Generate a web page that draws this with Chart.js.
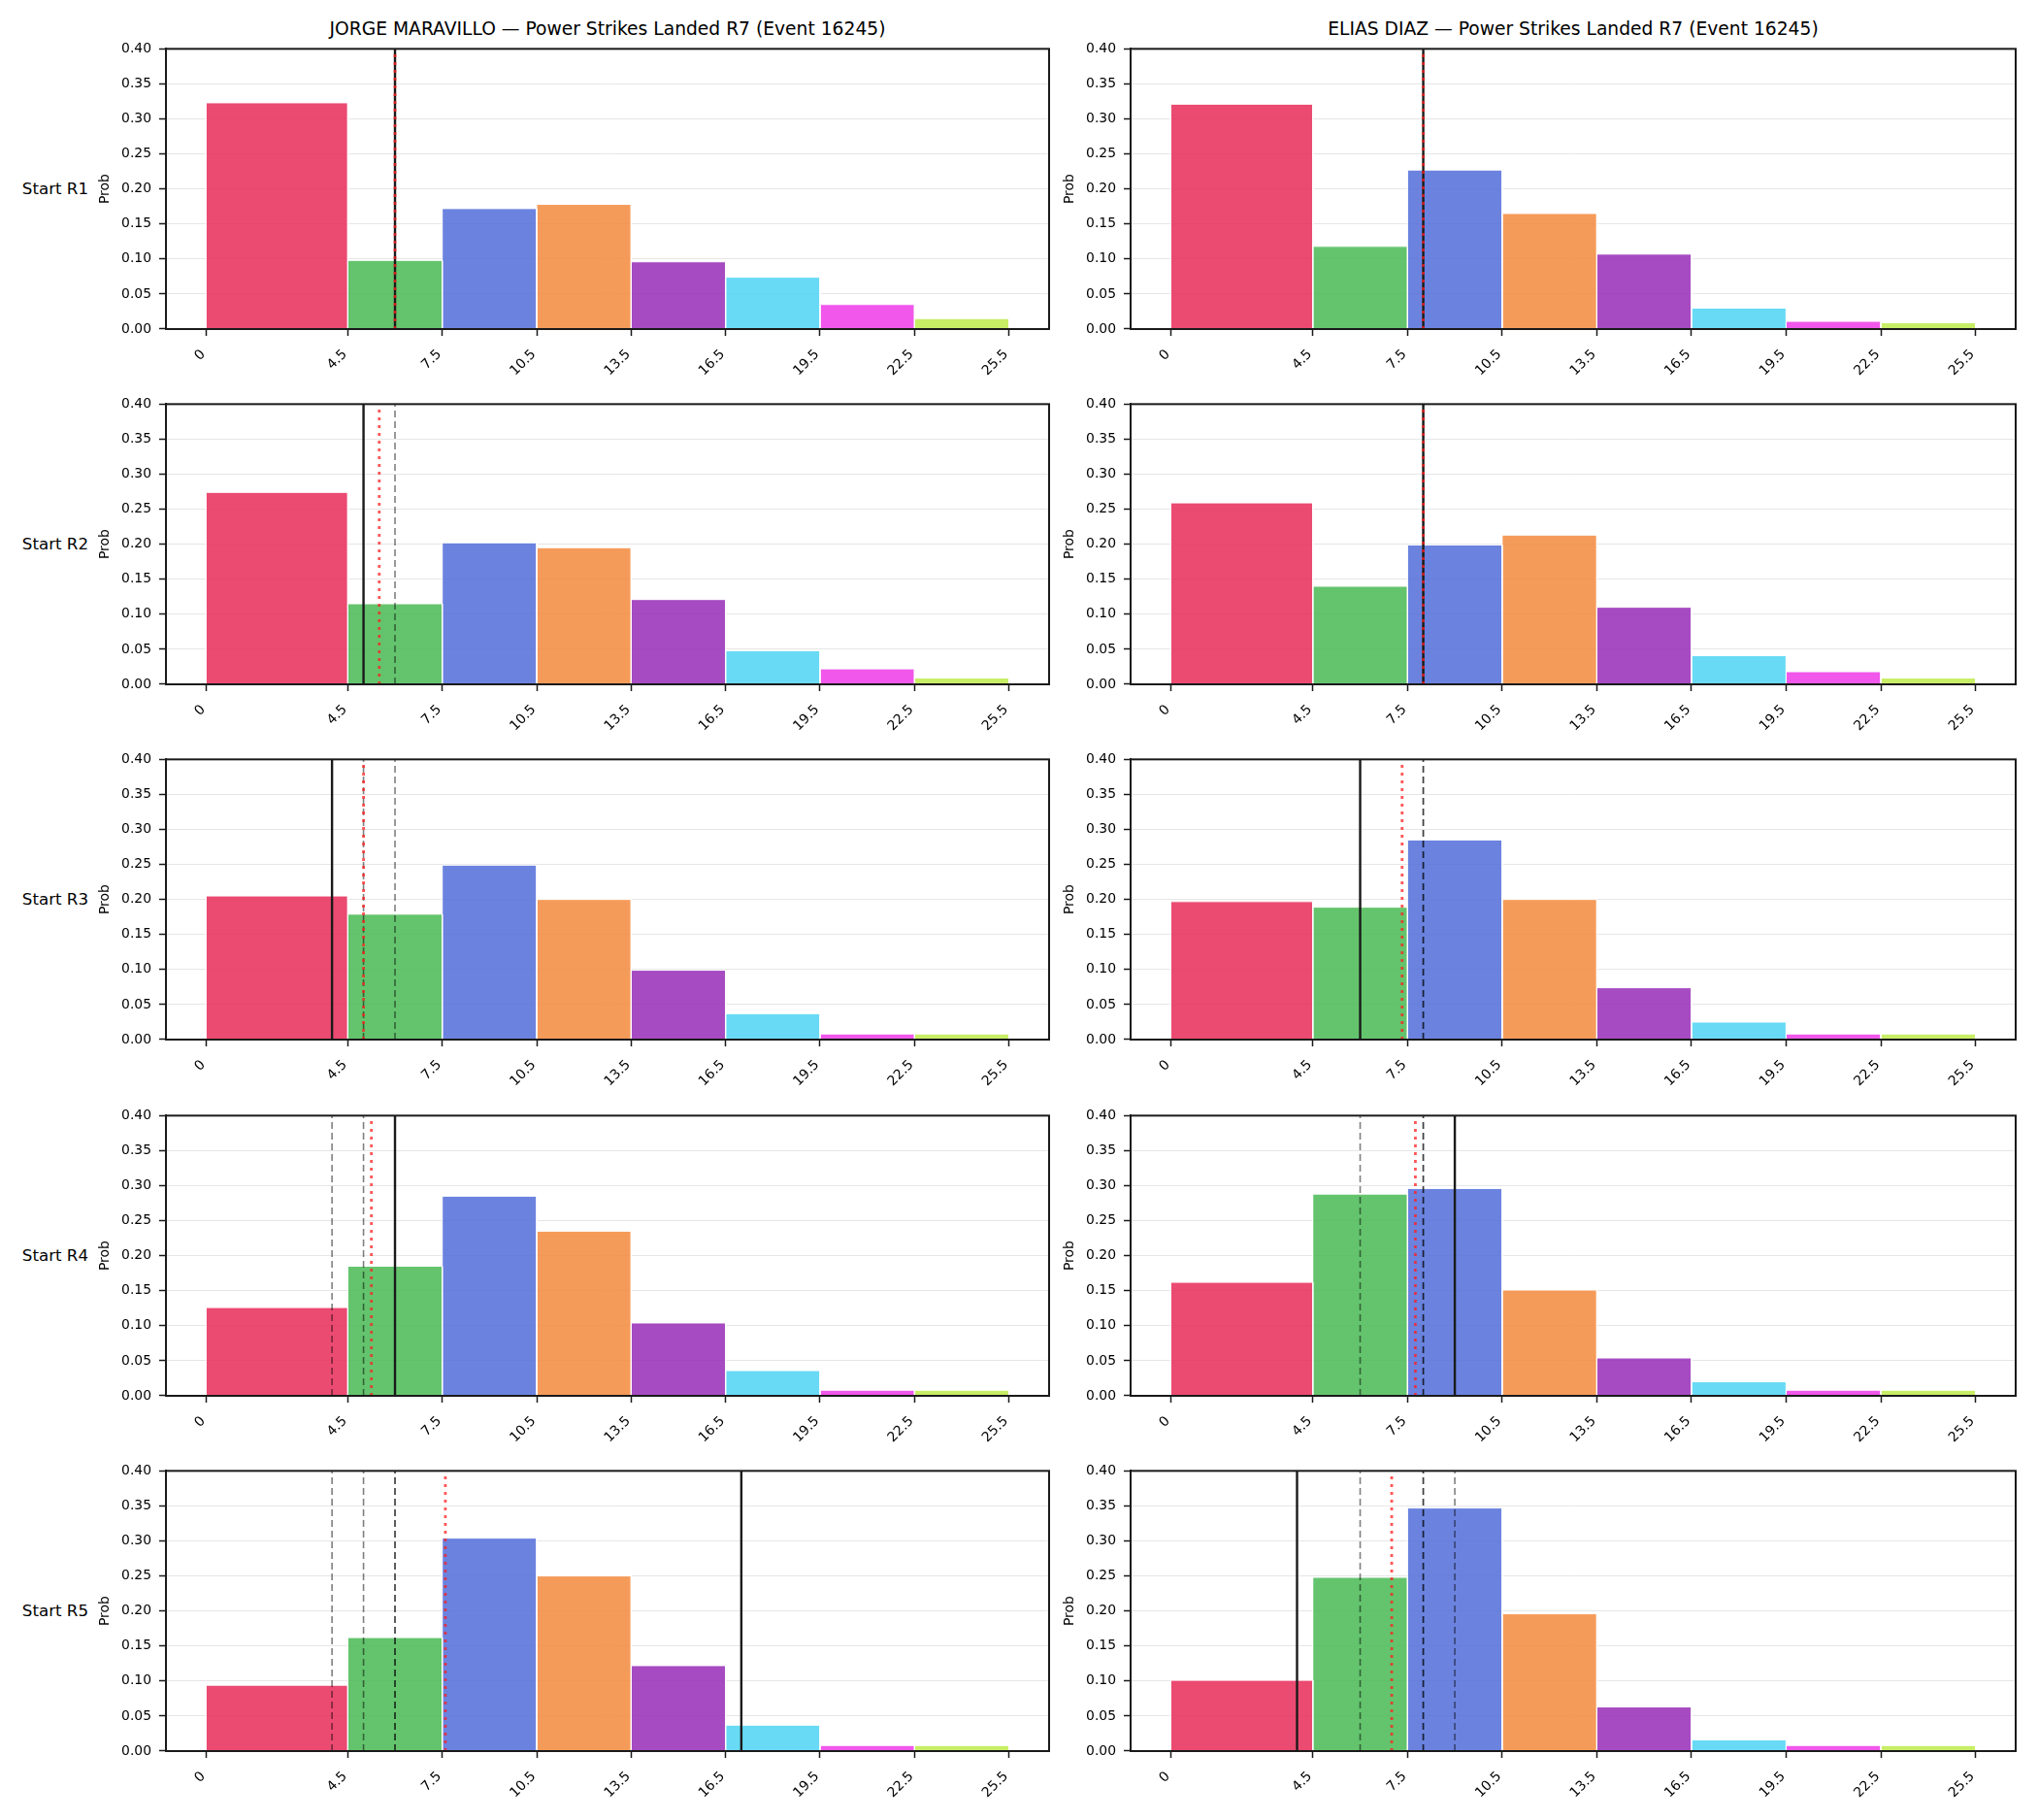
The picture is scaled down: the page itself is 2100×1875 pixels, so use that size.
<!DOCTYPE html>
<html>
<head>
<meta charset="utf-8">
<script src="https://cdn.jsdelivr.net/npm/chart.js@4.4.1/dist/chart.umd.min.js"></script>
<style>
	body { margin: 0; background: #fff; }
	#fig { position: relative; width: 2100px; height: 1875px; overflow: hidden; font-family: 'DejaVu Sans', sans-serif; color: #000; }
	#fig canvas { position: absolute; }
	.ttl { position: absolute; font-size: 18.7px; line-height: 24px; text-align: center; white-space: nowrap; }
	.rowlbl { position: absolute; font-size: 16.67px; line-height: 20px; text-align: right; white-space: nowrap; }
</style>
</head>
<body>
<div id="fig"></div>
<script>
const fighters = ['JORGE MARAVILLO', 'ELIAS DIAZ'];
const titleSuffix = ' \u2014 Power Strikes Landed R7 (Event 16245)';
const rowLabels = ['Start R1', 'Start R2', 'Start R3', 'Start R4', 'Start R5'];

const binEdges = [0, 4.5, 7.5, 10.5, 13.5, 16.5, 19.5, 22.5, 25.5];
const xTickLabels = ['0', '4.5', '7.5', '10.5', '13.5', '16.5', '19.5', '22.5', '25.5'];
const yTickValues = [0, 0.05, 0.1, 0.15, 0.2, 0.25, 0.3, 0.35, 0.4];

const binColors = [
	'rgba(232, 42, 88, 0.85)',
	'rgba(73, 186, 84, 0.85)',
	'rgba(81, 109, 217, 0.85)',
	'rgba(243, 137, 61, 0.85)',
	'rgba(150, 44, 183, 0.85)',
	'rgba(77, 211, 243, 0.85)',
	'rgba(237, 58, 230, 0.85)',
	'rgba(190, 235, 75, 0.85)',
];

// probability per bin, one array per starting round
const maravilloR1 = [0.323, 0.098, 0.172, 0.178, 0.096, 0.074, 0.035, 0.015];
const maravilloR2 = [0.274, 0.115, 0.202, 0.195, 0.121, 0.048, 0.022, 0.009];
const maravilloR3 = [0.205, 0.179, 0.249, 0.200, 0.099, 0.037, 0.008, 0.008];
const maravilloR4 = [0.126, 0.185, 0.285, 0.235, 0.104, 0.036, 0.008, 0.008];
const maravilloR5 = [0.094, 0.162, 0.304, 0.250, 0.122, 0.037, 0.008, 0.008];

const diazR1 = [0.321, 0.118, 0.227, 0.165, 0.107, 0.030, 0.011, 0.009];
const diazR2 = [0.259, 0.140, 0.199, 0.213, 0.110, 0.041, 0.018, 0.009];
const diazR3 = [0.197, 0.189, 0.285, 0.200, 0.074, 0.025, 0.008, 0.008];
const diazR4 = [0.162, 0.288, 0.296, 0.151, 0.054, 0.020, 0.008, 0.008];
const diazR5 = [0.101, 0.248, 0.347, 0.196, 0.063, 0.016, 0.008, 0.008];

// landed count in each round (solid line), earlier rounds shown dashed
const maravilloActual = [6, 5, 4, 6, 17];
const diazActual = [8, 8, 6, 9, 4];

// running average (red dotted line)
const maravilloAvg = [6, 5.5, 5.0, 5.25, 7.6];
const diazAvg = [8, 8, 7.33, 7.75, 7.0];

const panels = [
	{ probs: [maravilloR1, maravilloR2, maravilloR3, maravilloR4, maravilloR5], actual: maravilloActual, avg: maravilloAvg },
	{ probs: [diazR1, diazR2, diazR3, diazR4, diazR5], actual: diazActual, avg: diazAvg },
];

const X_MIN = -1.275;
const X_MAX = 26.775;
const Y_MAX = 0.4;

const areaLeft = [171, 1165];
const areaRight = [1081, 2077];
const areaTop = [50, 416, 782, 1149, 1515];
const areaH = 289;
const yAxisW = 71;
const padTop = 12;
const padRight = 8;
const xAxisH = 80;

const ink = '#1a1a1a';
const tickFont = { family: 'DejaVu Sans', size: 13.9 };

Chart.defaults.font.family = 'DejaVu Sans';
Chart.defaults.color = '#000';

const framePlugin = {
	id: 'frame',
	afterDraw(chart) {
		const { ctx, chartArea: a } = chart;
		ctx.save();
		ctx.strokeStyle = ink;
		ctx.lineWidth = 2;
		ctx.strokeRect(a.left, a.top, a.right - a.left, a.bottom - a.top);
		ctx.restore();
	},
};

function vline(x, color, width, dash, order) {
	return {
		data: [{ x: x, y: 0 }, { x: x, y: Y_MAX }],
		borderColor: color,
		borderWidth: width,
		borderDash: dash,
		pointRadius: 0,
		fill: false,
		order: order,
	};
}

function buildDatasets(probs, actual, avg, r) {
	const sets = [];

	probs.forEach((p, i) => {
		sets.push({
			data: [
				{ x: binEdges[i], y: 0 },
				{ x: binEdges[i], y: p },
				{ x: binEdges[i + 1], y: p },
				{ x: binEdges[i + 1], y: 0 },
			],
			backgroundColor: binColors[i],
			borderColor: '#fff',
			borderWidth: 1,
			pointRadius: 0,
			fill: 'origin',
			order: 10,
		});
	});

	for (let k = 0; k < r; k++) {
		sets.push(vline(actual[k], 'rgba(0, 0, 0, 0.5)', 1.6, [7, 4], 3));
	}
	sets.push(vline(actual[r], ink, 2.4, [], 2));
	sets.push(vline(avg[r], 'rgba(255, 30, 30, 0.75)', 2.8, [3, 5], 1));

	return sets;
}

function chartConfig(p, r) {
	return {
		type: 'line',
		data: {
			datasets: buildDatasets(p.probs[r], p.actual, p.avg, r),
		},
		options: {
			responsive: false,
			maintainAspectRatio: false,
			animation: false,
			events: [],
			elements: {
				line: { tension: 0 },
			},
			layout: {
				padding: { top: padTop, right: padRight, left: 0, bottom: 0 },
			},
			plugins: {
				legend: { display: false },
				tooltip: { enabled: false },
			},
			scales: {
				x: {
					type: 'linear',
					min: X_MIN,
					max: X_MAX,
					afterBuildTicks: (axis) => {
						axis.ticks = binEdges.map((v) => ({ value: v }));
					},
					afterFit: (scale) => {
						scale.height = xAxisH;
					},
					ticks: {
						autoSkip: false,
						minRotation: 45,
						maxRotation: 45,
						padding: 11,
						labelOffset: -3,
						font: tickFont,
						color: '#000',
						callback: (value, index) => xTickLabels[index],
					},
					grid: {
						drawOnChartArea: false,
						drawTicks: true,
						tickLength: 7,
						tickColor: ink,
						tickWidth: 1.5,
					},
					border: { color: ink, width: 2 },
				},
				y: {
					type: 'linear',
					min: 0,
					max: Y_MAX,
					afterBuildTicks: (axis) => {
						axis.ticks = yTickValues.map((v) => ({ value: v }));
					},
					afterFit: (scale) => {
						scale.width = yAxisW;
					},
					ticks: {
						padding: 8,
						font: tickFont,
						color: '#000',
						callback: (value) => Number(value).toFixed(2),
					},
					grid: {
						color: '#e6e6e6',
						lineWidth: 1,
						drawTicks: true,
						tickLength: 7,
						tickColor: ink,
						tickWidth: 1.5,
					},
					border: { color: ink, width: 2 },
					title: {
						display: true,
						text: 'Prob',
						font: { family: 'DejaVu Sans', size: 13.9 },
						color: '#000',
						padding: 0,
					},
				},
			},
		},
		plugins: [framePlugin],
	};
}

function newCanvas(w, h) {
	const canvas = document.createElement('canvas');
	canvas.width = w;
	canvas.height = h;
	canvas.style.width = w + 'px';
	canvas.style.height = h + 'px';
	document.getElementById('fig').appendChild(canvas);
	return canvas;
}

function makePanel(col, r) {
	const p = panels[col];
	const wantW = areaRight[col] - areaLeft[col];
	let w = wantW + yAxisW + padRight;
	let h = areaH + padTop + xAxisH;

	let canvas = newCanvas(w, h);
	let chart = new Chart(canvas, chartConfig(p, r));

	// the library may add its own padding; size the canvas so the plot area is exact
	let a = chart.chartArea;
	const dw = Math.round(wantW - (a.right - a.left));
	const dh = Math.round(areaH - (a.bottom - a.top));
	if (dw !== 0 || dh !== 0) {
		chart.destroy();
		canvas.remove();
		w += dw;
		h += dh;
		canvas = newCanvas(w, h);
		chart = new Chart(canvas, chartConfig(p, r));
		a = chart.chartArea;
	}

	canvas.style.left = (areaLeft[col] - a.left) + 'px';
	canvas.style.top = (areaTop[r] - a.top) + 'px';
}

function addText(cls, text, style) {
	const el = document.createElement('div');
	el.className = cls;
	el.textContent = text;
	Object.assign(el.style, style);
	document.getElementById('fig').appendChild(el);
}

fighters.forEach((name, col) => {
	addText('ttl', name + titleSuffix, {
		left: areaLeft[col] + 'px',
		width: (areaRight[col] - areaLeft[col]) + 'px',
		top: '18px',
	});
});

rowLabels.forEach((label, r) => {
	addText('rowlbl', label, {
		left: '0px',
		width: '91px',
		top: (areaTop[r] + areaH / 2 - 10) + 'px',
	});
	makePanel(0, r);
	makePanel(1, r);
});
</script>
</body>
</html>
